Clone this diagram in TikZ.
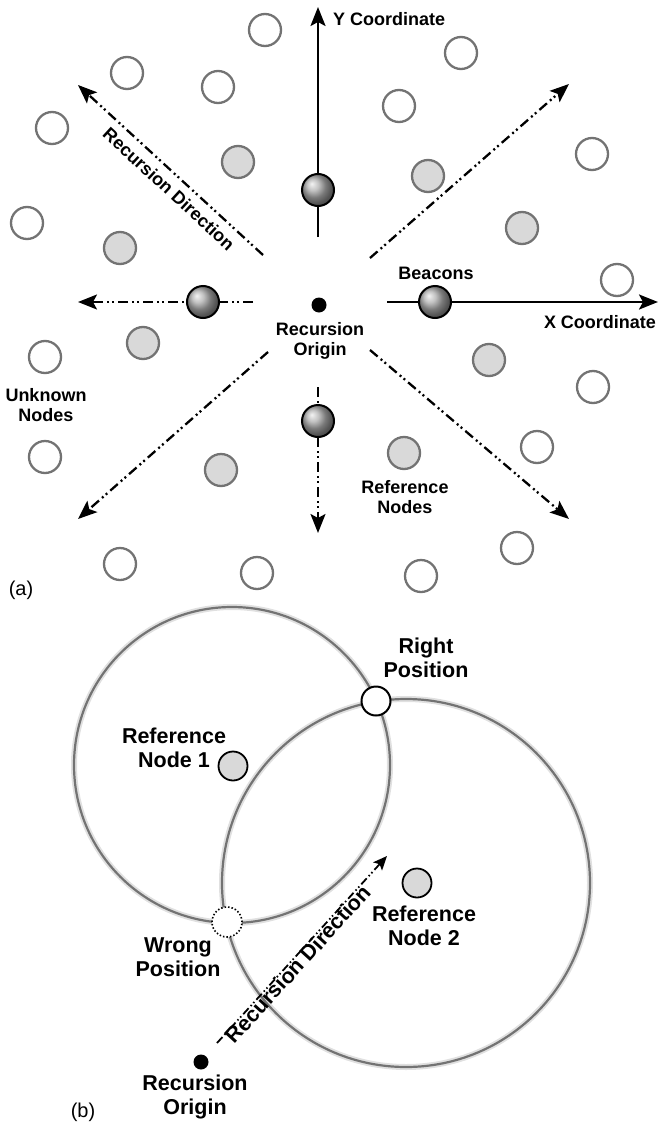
\documentclass[tikz,border=0pt]{standalone}
\usepackage{fontspec}
\setmainfont{Liberation Sans}
\usetikzlibrary{arrows.meta}

\tikzset{
	unknown/.style={circle, draw=black!55, line width=2.3pt, fill=white, minimum size=32pt, inner sep=0pt},
	refnode/.style={unknown, fill=black!15},
	beacon/.style={circle, draw=black, line width=2pt, ball color=black!32, minimum size=32pt, inner sep=0pt},
	origin/.style={circle, fill=black, minimum size=15pt, inner sep=0pt},
	lbl/.style={font=\bfseries\fontsize{18}{20.5}\selectfont, align=center, inner sep=0pt},
	biglbl/.style={font=\bfseries\fontsize{21.5}{23.5}\selectfont, align=center, inner sep=0pt},
	panel/.style={font=\fontsize{20}{22}\selectfont, inner sep=0pt},
	axis/.style={line width=2.5pt, -{Stealth[length=19pt,width=15pt,inset=4pt]}},
	recdir/.style={line width=2.3pt, dash pattern=on 10pt off 4pt on 2pt off 3pt on 2pt off 4pt, -{Stealth[length=19pt,width=15pt,inset=4pt]}},
	recdirb/.style={line width=1.8pt, dash pattern=on 8pt off 3pt on 1.5pt off 2.5pt on 1.5pt off 3pt, -{Stealth[length=14pt,width=12pt,inset=3pt]}},
	rangecircle/.style={draw=black!55, line width=2.2pt},
	rangeglow/.style={draw=black!12, line width=6pt},
	rightpos/.style={circle, draw=black, line width=2pt, fill=white, minimum size=29pt, inner sep=0pt},
	wrongpos/.style={circle, draw=black, line width=1.6pt, dash pattern=on 1.5pt off 2pt, fill=white, minimum size=30pt, inner sep=0pt}
}

\begin{document}
\begin{tikzpicture}[x=1pt,y=-1pt]
	\useasboundingbox (0,0) rectangle (659,1124);

	% (a) axes and recursion directions
	\coordinate (ystart) at (318,237);
	\coordinate (yend) at (318,7);
	\coordinate (xstart) at (387,302);
	\coordinate (xend) at (658,302);
	\coordinate (wstart) at (253,302);
	\coordinate (wend) at (78,302);
	\coordinate (sstart) at (318,387);
	\coordinate (send) at (318,533);
	\coordinate (nwstart) at (263,255);
	\coordinate (nwend) at (78,85);
	\coordinate (nestart) at (370,258);
	\coordinate (neend) at (569,84);
	\coordinate (swstart) at (268,352);
	\coordinate (swend) at (78,519);
	\coordinate (sestart) at (370,350);
	\coordinate (seend) at (569,519);

	\draw[axis] (ystart) -- (yend);
	\draw[axis] (xstart) -- (xend);
	\draw[recdir] (wstart) -- (wend);
	\draw[recdir] (sstart) -- (send);
	\draw[recdir] (nwstart) -- (nwend);
	\draw[recdir] (nestart) -- (neend);
	\draw[recdir] (swstart) -- (swend);
	\draw[recdir] (sestart) -- (seend);

	\node[origin] (org) at (319,305) {};
	\node[beacon] (b1) at (318,190) {};
	\node[beacon] (b2) at (435,302) {};
	\node[beacon] (b3) at (203,302) {};
	\node[beacon] (b4) at (318,421) {};

	% unknown nodes
	\node[unknown] (u1) at (265,30) {};
	\node[unknown] (u2) at (127,73) {};
	\node[unknown] (u3) at (218,87) {};
	\node[unknown] (u4) at (52,128) {};
	\node[unknown] (u5) at (27,223) {};
	\node[unknown] (u6) at (461,53) {};
	\node[unknown] (u7) at (399,106) {};
	\node[unknown] (u8) at (592,154) {};
	\node[unknown] (u9) at (617,280) {};
	\node[unknown] (u10) at (45,357) {};
	\node[unknown] (u11) at (45,457) {};
	\node[unknown] (u12) at (120,564) {};
	\node[unknown] (u13) at (257,573) {};
	\node[unknown] (u14) at (593,387) {};
	\node[unknown] (u15) at (537,447) {};
	\node[unknown] (u16) at (517,548) {};
	\node[unknown] (u17) at (421,576) {};

	% reference nodes
	\node[refnode] (r1) at (238,162) {};
	\node[refnode] (r2) at (120,248) {};
	\node[refnode] (r3) at (428,176) {};
	\node[refnode] (r4) at (522,228) {};
	\node[refnode] (r5) at (143,343) {};
	\node[refnode] (r6) at (489,360) {};
	\node[refnode] (r7) at (221,470) {};
	\node[refnode] (r8) at (404,453) {};

	\node[lbl, anchor=west] (ylab) at (333,19) {Y Coordinate};
	\node[lbl] (xlab) at (600,322) {X Coordinate};
	\node[lbl] (beaconlab) at (436,273) {Beacons};
	\node[lbl] (orglab) at (320,341) {Recursion\\Origin};
	\node[lbl] (unknownlab) at (46,405) {Unknown\\Nodes};
	\node[lbl] (reflab) at (405,497) {Reference\\Nodes};
	\node[lbl, rotate=-42.6] (dirlab) at (169,189) {Recursion Direction};
	\node[panel] (alab) at (21,590) {(a)};

	% (b) two reference ranges
	\coordinate (c1) at (232,765);
	\coordinate (c2) at (406,883);
	\draw[rangeglow] (c1) circle[radius=158pt];
	\draw[rangeglow] (c2) circle[radius=184pt];
	\draw[rangecircle] (c1) circle[radius=158pt];
	\draw[rangecircle] (c2) circle[radius=184pt];

	\coordinate (dstart) at (217,1043);
	\coordinate (dend) at (387,856);
	\draw[recdirb] (dstart) -- (dend);

	\node[refnode, draw=black, line width=1.8pt, minimum size=29pt] (ref1) at (233,766) {};
	\node[refnode, draw=black, line width=1.8pt, minimum size=29pt] (ref2) at (417,883) {};
	\node[rightpos] (right) at (376,701) {};
	\node[wrongpos] (wrong) at (227,922) {};
	\node[origin, minimum size=15pt] (orgb) at (201,1062) {};

	\node[biglbl] (ref1lab) at (174,748) {Reference\\Node 1};
	\node[biglbl] (ref2lab) at (424,926) {Reference\\Node 2};
	\node[biglbl] (rightlab) at (426,658) {Right\\Position};
	\node[biglbl] (wronglab) at (178,957) {Wrong\\Position};
	\node[biglbl] (orgblab) at (195,1097) {Recursion\\Origin};
	\node[biglbl, rotate=47.7] (dirblab) at (298,964) {Recursion Direction};
	\node[panel] (blab) at (83,1112) {(b)};
\end{tikzpicture}
\end{document}
